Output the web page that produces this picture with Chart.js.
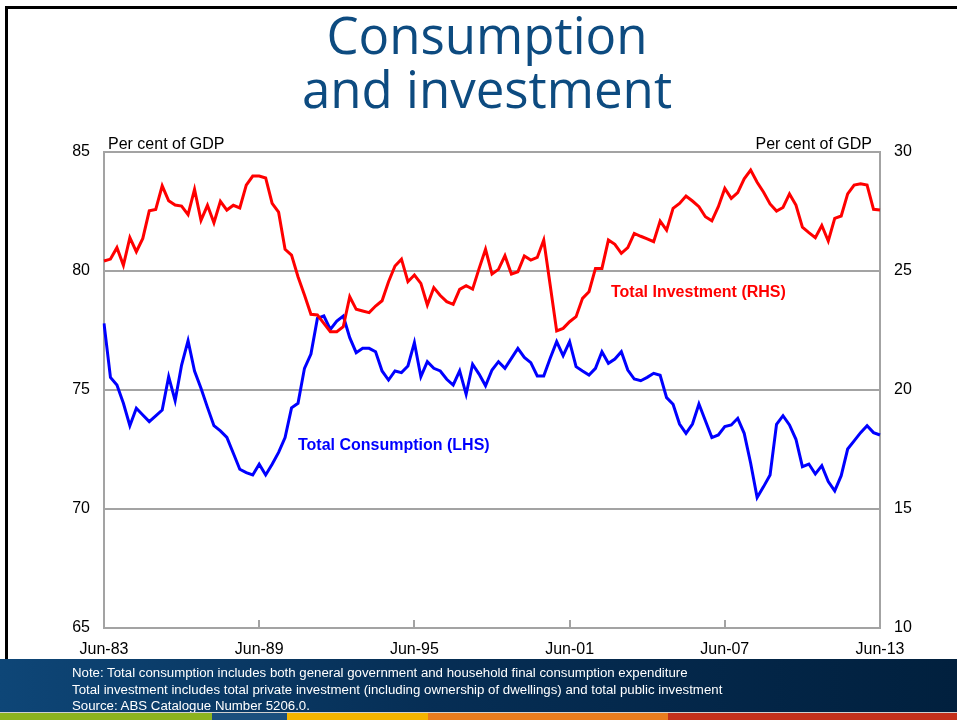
<!DOCTYPE html>
<html>
<head>
<meta charset="utf-8">
<script src="https://cdn.jsdelivr.net/npm/chart.js@4.4.1/dist/chart.umd.min.js"></script>
<style>
  html, body { margin: 0; padding: 0; background: #ffffff; }
  #wrap { position: relative; width: 957px; height: 720px; overflow: hidden; background: #fff; }
  #chart { position: absolute; left: 0; top: 0; }
  #title { position: absolute; left: 17px; width: 940px; top: 7px; text-align: center;
           font-family: "Open Sans", sans-serif; font-size: 51px; line-height: 54px;
           color: #0d4b80; }
  #footer { position: absolute; left: 0; top: 659px; width: 957px; height: 53px;
            background: linear-gradient(90deg, #0e4677 0%, #062e55 45%, #01203e 100%); }
  #notes { position: absolute; left: 72px; top: 665px; font-family: "Liberation Sans", Arial, sans-serif;
           font-size: 13.25px; line-height: 16.5px; color: #ffffff; white-space: nowrap; }
  #stripe { position: absolute; left: 0; top: 712px; width: 957px; height: 8px; display: flex;
            border-top: 1px solid #d0d0d0; box-sizing: border-box; }
  #stripe div { height: 100%; }
  #frameL { position: absolute; left: 5px; top: 6px; width: 3px; height: 706px; background: #000; }
  #frameT { position: absolute; left: 5px; top: 6px; width: 952px; height: 3px; background: #000; }
</style>
</head>
<body>
<div id="wrap">
  <canvas id="chart" width="957" height="720"></canvas>
  <div id="frameT"></div>
  <div id="frameL"></div>
  <div id="title">Consumption<br>and investment</div>
  <div id="footer"></div>
  <div id="notes">Note: Total consumption includes both general government and household final consumption expenditure<br>Total investment includes total private investment (including ownership of dwellings) and total public investment<br>Source: ABS Catalogue Number 5206.0.</div>
  <div id="stripe">
    <div style="width:212px;background:#8cb31f"></div>
    <div style="width:75px;background:#1b4f7d"></div>
    <div style="width:141px;background:#f4b400"></div>
    <div style="width:240px;background:#e97d1e"></div>
    <div style="width:289px;background:#c3311c"></div>
  </div>
</div>
<script>
// ---- Data ----
const quarterMonths = ['Jun', 'Sep', 'Dec', 'Mar'];
const categories = [];
for (let i = 0; i <= 120; i++) {
  const calYear = (i % 4 === 3) ? 1983 + Math.floor(i / 4) + 1 : 1983 + Math.floor(i / 4);
  categories.push(quarterMonths[i % 4] + '-' + String(calYear % 100).padStart(2, '0'));
}
const xTickLabels = ['Jun-83', 'Jun-89', 'Jun-95', 'Jun-01', 'Jun-07', 'Jun-13'];
const leftTicks = [65, 70, 75, 80, 85];
const rightTicks = [10, 15, 20, 25, 30];

const totalConsumption = [
  77.80, 75.53, 75.21, 74.44, 73.50, 74.23, 73.95, 73.67, 73.91, 74.16,
  75.56, 74.55, 76.05, 77.07, 75.80, 75.07, 74.27, 73.50, 73.28, 73.01,
  72.34, 71.67, 71.53, 71.43, 71.88, 71.43, 71.88, 72.38, 73.00, 74.25,
  74.44, 75.91, 76.51, 78.01, 78.11, 77.55, 77.90, 78.11, 77.20, 76.57,
  76.75, 76.75, 76.61, 75.80, 75.42, 75.80, 75.73, 76.01, 76.99, 75.56,
  76.19, 75.91, 75.80, 75.45, 75.21, 75.80, 74.82, 76.08, 75.67, 75.18,
  75.84, 76.19, 75.91, 76.33, 76.75, 76.37, 76.15, 75.59, 75.59, 76.33,
  77.03, 76.44, 77.03, 75.98, 75.80, 75.63, 75.91, 76.61, 76.12, 76.30,
  76.61, 75.84, 75.46, 75.39, 75.53, 75.70, 75.62, 74.68, 74.40, 73.57,
  73.18, 73.57, 74.41, 73.71, 73.00, 73.11, 73.46, 73.53, 73.81, 73.18,
  71.92, 70.48, 70.94, 71.43, 73.56, 73.92, 73.53, 72.93, 71.78, 71.89,
  71.47, 71.82, 71.15, 70.76, 71.40, 72.52, 72.86, 73.21, 73.50, 73.21,
  73.11
];
const totalInvestment = [
  25.42, 25.50, 25.98, 25.24, 26.40, 25.81, 26.37, 27.53, 27.59, 28.58,
  27.95, 27.77, 27.73, 27.37, 28.43, 27.13, 27.76, 27.03, 27.93, 27.56,
  27.76, 27.65, 28.61, 28.99, 28.99, 28.91, 27.84, 27.47, 25.91, 25.67,
  24.76, 23.99, 23.18, 23.15, 22.80, 22.45, 22.45, 22.66, 23.92, 23.39,
  23.32, 23.25, 23.53, 23.75, 24.55, 25.21, 25.50, 24.55, 24.83, 24.48,
  23.57, 24.30, 23.97, 23.71, 23.60, 24.23, 24.38, 24.24, 25.10, 25.91,
  24.87, 25.07, 25.64, 24.87, 24.97, 25.63, 25.46, 25.57, 26.30, 24.40,
  22.48, 22.59, 22.87, 23.08, 23.85, 24.13, 25.11, 25.11, 26.30, 26.12,
  25.74, 25.98, 26.58, 26.46, 26.35, 26.23, 27.10, 26.72, 27.63, 27.84,
  28.15, 27.94, 27.70, 27.28, 27.11, 27.70, 28.47, 28.05, 28.29, 28.87,
  29.24, 28.73, 28.31, 27.82, 27.52, 27.67, 28.24, 27.77, 26.84, 26.61,
  26.40, 26.91, 26.26, 27.21, 27.31, 28.24, 28.61, 28.66, 28.61, 27.59,
  27.56
];
// series label anchors, in data units: [category index, value on own axis]
const consumptionLabelAt = [30, 72.65];
const investmentLabelAt = [78.4, 24.08];

const GRID = '#a3a3a3';
const TICK_FONT = { family: '"Liberation Sans", Arial, sans-serif', size: 16 };

const overlayPlugin = {
  id: 'overlay',
  afterDatasetsDraw(chart) {
    const ctx = chart.ctx, a = chart.chartArea;
    const x = chart.scales.x, yl = chart.scales.y, yr = chart.scales.y1;
    ctx.save();
    // inward tick marks on the bottom axis
    ctx.strokeStyle = GRID; ctx.lineWidth = 2;
    xTickLabels.forEach(lbl => {
      const idx = categories.indexOf(lbl);
      if (idx <= 0 || idx >= categories.length - 1) return;
      const px = Math.round(x.getPixelForValue(idx));
      ctx.beginPath(); ctx.moveTo(px, a.bottom); ctx.lineTo(px, a.bottom - 8); ctx.stroke();
    });
    // unit labels
    ctx.fillStyle = '#000';
    ctx.font = '16px "Liberation Sans", Arial, sans-serif';
    ctx.textBaseline = 'alphabetic';
    ctx.textAlign = 'left';
    ctx.fillText('Per cent of GDP', a.left + 4, a.top - 3);
    ctx.textAlign = 'right';
    ctx.fillText('Per cent of GDP', a.right - 8, a.top - 3);
    // series labels
    ctx.font = 'bold 16px "Liberation Sans", Arial, sans-serif';
    ctx.textBaseline = 'middle';
    ctx.textAlign = 'left';
    ctx.fillStyle = '#ff0000';
    ctx.fillText('Total Investment (RHS)', x.getPixelForValue(investmentLabelAt[0]), yr.getPixelForValue(investmentLabelAt[1]));
    ctx.fillStyle = '#0000ff';
    ctx.fillText('Total Consumption (LHS)', x.getPixelForValue(consumptionLabelAt[0]), yl.getPixelForValue(consumptionLabelAt[1]));
    ctx.restore();
  }
};

new Chart(document.getElementById('chart'), {
  type: 'line',
  data: {
    labels: categories,
    datasets: [
      { label: 'Total Investment (RHS)', data: totalInvestment, yAxisID: 'y1',
        borderColor: '#ff0000', borderWidth: 3, pointRadius: 0, tension: 0, order: 0 },
      { label: 'Total Consumption (LHS)', data: totalConsumption, yAxisID: 'y',
        borderColor: '#0000ff', borderWidth: 3, pointRadius: 0, tension: 0, order: 1 }
    ]
  },
  options: {
    responsive: false,
    animation: false,
    devicePixelRatio: 1,
    layout: { padding: { left: 0, right: 0, top: 152, bottom: 62 } },
    plugins: { legend: { display: false }, tooltip: { enabled: false }, title: { display: false } },
    scales: {
      x: {
        type: 'category',
        offset: false,
        grid: { display: false, drawTicks: false },
        border: { display: true, color: GRID, width: 2 },
        ticks: {
          autoSkip: false, maxRotation: 0, minRotation: 0, padding: 12,
          color: '#000', font: TICK_FONT,
          callback: function (v) { return this.getLabelForValue(v); }
        },
        afterBuildTicks: s => { s.ticks = s.ticks.filter(t => xTickLabels.includes(categories[t.value])); },
        afterFit: s => { s.height = 30; }
      },
      y: {
        position: 'left', min: 65, max: 85,
        grid: { color: GRID, lineWidth: 2, drawTicks: false },
        border: { display: true, color: GRID, width: 2 },
        ticks: { stepSize: 5, padding: 14, color: '#000', font: TICK_FONT },
        afterBuildTicks: s => { s.ticks = leftTicks.map(v => ({ value: v })); },
        afterFit: s => { s.width = 104; }
      },
      y1: {
        position: 'right', min: 10, max: 30,
        grid: { drawOnChartArea: false, drawTicks: false },
        border: { display: true, color: GRID, width: 2 },
        ticks: { stepSize: 5, padding: 14, color: '#000', font: TICK_FONT },
        afterBuildTicks: s => { s.ticks = rightTicks.map(v => ({ value: v })); },
        afterFit: s => { s.width = 77; }
      }
    }
  },
  plugins: [overlayPlugin]
});
</script>
</body>
</html>
